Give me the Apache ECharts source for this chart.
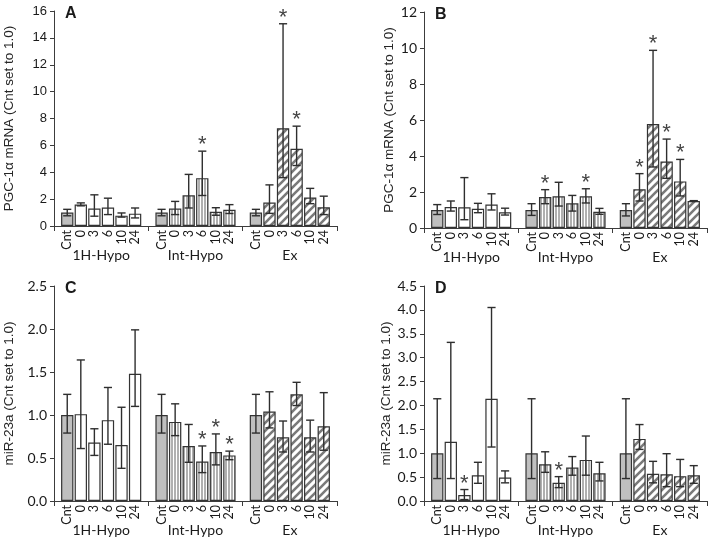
<!DOCTYPE html>
<html><head><meta charset="utf-8">
<script src="https://cdn.jsdelivr.net/npm/echarts@6/dist/echarts.min.js"></script>
<style>html,body{margin:0;padding:0;background:#fff}#chart{width:709px;height:539px}</style>
</head><body><div id="chart"></div>
<script>
const groups = ['1H-Hypo', 'Int-Hypo', 'Ex'];
const timepoints = ['Cnt', '0', '3', '6', '10', '24'];

// Order in every array: 1H-Hypo (Cnt,0,3,6,10,24), Int-Hypo (...), Ex (...)
// Panel A: PGC-1α mRNA
const meanA = [1.0, 1.6, 1.3, 1.38, 0.77, 0.92,  1.0, 1.3, 2.28, 3.56, 1.06, 1.2,  1.0, 1.74, 7.28, 5.74, 2.12, 1.39];
const hiA   = [1.24, 1.72, 2.32, 2.07, 0.97, 1.34, 1.24, 1.83, 3.84, 5.57, 1.36, 1.59, 1.24, 3.06, 15.05, 7.43, 2.8, 2.22];
const loA   = [0.76, 1.5, 0.73, 0.85, 0.66, 0.6,  0.76, 0.85, 1.34, 2.27, 0.8, 0.93, 0.76, 0.94, 3.6, 4.5, 1.66, 0.85];
const starA = [0,0,0,0,0,0, 0,0,0,1,0,0, 0,0,1,1,0,0];

// Panel B: PGC-1α mRNA
const meanB = [1.0, 1.17, 1.15, 1.07, 1.3, 0.87,  1.0, 1.72, 1.76, 1.37, 1.76, 0.9,  1.0, 2.15, 5.78, 3.69, 2.59, 1.5];
const hiB   = [1.3, 1.5, 2.8, 1.37, 1.9, 1.1,  1.35, 2.13, 2.54, 1.81, 2.18, 1.09,  1.35, 3.02, 9.87, 4.94, 3.81, 1.52];
const loB   = [0.75, 0.94, 0.46, 0.85, 1.0, 0.72,  0.7, 1.35, 1.22, 0.94, 1.39, 0.76,  0.67, 1.5, 3.39, 2.76, 1.78, 1.48];
const starB = [0,0,0,0,0,0, 0,1,0,0,1,0, 0,1,1,1,1,0];

// Panel C: miR-23a
const meanC = [1.0, 1.01, 0.68, 0.94, 0.65, 1.48,  1.0, 0.92, 0.64, 0.46, 0.57, 0.53,  1.0, 1.04, 0.74, 1.24, 0.74, 0.87];
const hiC   = [1.24, 1.64, 0.84, 1.32, 1.09, 1.99,  1.24, 1.13, 0.89, 0.64, 0.78, 0.58,  1.24, 1.27, 0.93, 1.38, 0.94, 1.26];
const loC   = [0.79, 0.61, 0.53, 0.66, 0.38, 1.1,  0.79, 0.76, 0.45, 0.33, 0.42, 0.48,  0.79, 0.85, 0.57, 1.11, 0.57, 0.59];
const starC = [0,0,0,0,0,0, 0,0,0,1,1,1, 0,0,0,0,0,0];

// Panel D: miR-23a
const meanD = [1.0, 1.24, 0.125, 0.54, 2.14, 0.49,  1.0, 0.77, 0.38, 0.7, 0.86, 0.58,  1.0, 1.3, 0.57, 0.56, 0.52, 0.54];
const hiD   = [2.14, 3.32, 0.24, 0.81, 4.05, 0.63,  2.14, 1.03, 0.51, 0.93, 1.36, 0.81,  2.14, 1.6, 0.83, 0.99, 0.87, 0.74];
const loD   = [0.47, 0.47, 0.03, 0.37, 1.13, 0.38,  0.47, 0.6, 0.28, 0.54, 0.54, 0.42,  0.47, 1.08, 0.38, 0.3, 0.3, 0.37];
const starD = [0,0,1,0,0,0, 0,0,1,0,0,0, 0,0,0,0,0,0];

const yNamePGC = 'PGC-1α mRNA (Cnt set to 1.0)';
const yNameMiR = 'miR-23a (Cnt set to 1.0)';

// ---------- layout / styling ----------
const panels = [
  {letter:'A', mean:meanA, hi:hiA, lo:loA, star:starA, max:16, interval:2, dec:0, name:yNamePGC,
   grid:{left:54, top:11, width:283, height:215}, nameGap:38, tickFont:{fontFamily:'Liberation Sans', fontSize:13}},
  {letter:'B', mean:meanB, hi:hiB, lo:loB, star:starB, max:12, interval:2, dec:0, name:yNamePGC,
   grid:{left:424, top:12, width:283, height:216}, nameGap:28, tickFont:{fontFamily:'Lato', fontSize:14}},
  {letter:'C', mean:meanC, hi:hiC, lo:loC, star:starC, max:2.5, interval:0.5, dec:1, name:yNameMiR,
   grid:{left:54, top:286, width:283, height:215}, nameGap:38, tickFont:{fontFamily:'Lato', fontSize:14}},
  {letter:'D', mean:meanD, hi:hiD, lo:loD, star:starD, max:4.5, interval:0.5, dec:1, name:yNameMiR,
   grid:{left:424, top:286, width:283, height:215}, nameGap:28, tickFont:{fontFamily:'Lato', fontSize:14}}
];

function makeHatch() {
  const c = document.createElement('canvas'); c.width = 8; c.height = 8;
  const ctx = c.getContext('2d');
  ctx.fillStyle = '#ffffff'; ctx.fillRect(0, 0, 8, 8);
  ctx.strokeStyle = '#7a7a7a'; ctx.lineWidth = 2.6;
  ctx.beginPath();
  ctx.moveTo(-1, 9); ctx.lineTo(9, -1);
  ctx.moveTo(-3, 3); ctx.lineTo(3, -3);
  ctx.moveTo(5, 11); ctx.lineTo(11, 5);
  ctx.stroke();
  return c;
}
function makeVStripe() {
  const c = document.createElement('canvas'); c.width = 3; c.height = 3;
  const ctx = c.getContext('2d');
  ctx.fillStyle = '#ffffff'; ctx.fillRect(0, 0, 3, 3);
  ctx.fillStyle = '#b0b0b0'; ctx.fillRect(0, 0, 2, 3);
  return c;
}
const hatchImg = makeHatch();
const stripeImg = makeVStripe();

function fillFor(g, t) {
  if (t === 0) return '#bfbfbf';
  if (g === 0) return '#ffffff';
  if (g === 1) return {image: stripeImg, repeat: 'repeat'};
  return {image: hatchImg, repeat: 'repeat'};
}

const BAR_CAT_GAP = 0.15, BAR_GAP = 0.10, NB = timepoints.length;

function errRender(params, api) {
  const g = api.value(0), t = api.value(1), lo = api.value(2), hi = api.value(3), st = api.value(4);
  const band = api.size([1, 0])[0];
  const total = band * (1 - BAR_CAT_GAP);
  const bw = total / (NB + (NB - 1) * BAR_GAP);
  const cx = api.coord([g, 0])[0] - total / 2 + t * bw * (1 + BAR_GAP) + bw / 2;
  const yHi = api.coord([g, hi])[1];
  const yLo = api.coord([g, lo])[1];
  const hw = bw * 0.33;
  const style = {stroke: '#2e2e2e', lineWidth: 1.4};
  const children = [
    {type: 'line', shape: {x1: cx, y1: yHi, x2: cx, y2: yLo}, style: style},
    {type: 'line', shape: {x1: cx - hw, y1: yHi, x2: cx + hw, y2: yHi}, style: style},
    {type: 'line', shape: {x1: cx - hw, y1: yLo, x2: cx + hw, y2: yLo}, style: style}
  ];
  if (st) {
    children.push({type: 'text', x: cx, y: yHi - 17,
      style: {text: '*', fill: '#444444', font: '22px "Liberation Sans"', align: 'center', verticalAlign: 'top'}});
  }
  return {type: 'group', children: children};
}

const option = {
  animation: false,
  backgroundColor: '#ffffff',
  title: [], grid: [], xAxis: [], yAxis: [], series: []
};

panels.forEach((p, pi) => {
  option.grid.push(Object.assign({outerBoundsMode: 'none', containLabel: false}, p.grid));
  option.title.push({
    text: p.letter, left: p.grid.left + 11, top: p.grid.top - 5, padding: 0,
    textStyle: {fontFamily: 'Liberation Sans', fontWeight: 'bold', fontSize: 16, color: '#1a1a1a'}
  });
  option.xAxis.push({
    type: 'category', gridIndex: pi, data: groups,
    axisLine: {show: true, lineStyle: {color: '#3c3c3c', width: 1}},
    axisTick: {show: true, length: 5, alignWithLabel: false, interval: 0, lineStyle: {color: '#3c3c3c'}},
    axisLabel: {margin: 22, fontFamily: 'Lato', fontSize: 14, color: '#1a1a1a', interval: 0},
    splitLine: {show: false}
  });
  option.yAxis.push({
    type: 'value', gridIndex: pi, min: 0, max: p.max, interval: p.interval,
    name: p.name, nameLocation: 'middle', nameGap: p.nameGap,
    nameTextStyle: {fontFamily: 'Liberation Sans', fontSize: 13.5, color: '#262626'},
    axisLine: {show: true, lineStyle: {color: '#3c3c3c', width: 1}},
    axisTick: {show: true, length: 4, lineStyle: {color: '#3c3c3c'}},
    axisLabel: Object.assign({margin: 7, color: '#1a1a1a',
      formatter: v => Number(v).toFixed(p.dec)}, p.tickFont),
    splitLine: {show: false}
  });
  timepoints.forEach((tp, t) => {
    option.series.push({
      type: 'bar', name: tp, xAxisIndex: pi, yAxisIndex: pi,
      barGap: (BAR_GAP * 100) + '%', barCategoryGap: (BAR_CAT_GAP * 100) + '%',
      silent: true,
      itemStyle: {borderColor: '#333333', borderWidth: 1.2},
      label: {show: true, position: 'bottom', distance: 4, rotate: 90, align: 'right', verticalAlign: 'middle',
        formatter: tp, fontFamily: 'Lato', fontSize: 12.5, color: '#1a1a1a'},
      data: groups.map((g, gi) => ({value: p.mean[gi * NB + t], itemStyle: {color: fillFor(gi, t)}}))
    });
  });
  const errData = [];
  groups.forEach((g, gi) => timepoints.forEach((tp, t) => {
    const k = gi * NB + t;
    errData.push([gi, t, p.lo[k], p.hi[k], p.star[k]]);
  }));
  option.series.push({
    type: 'custom', xAxisIndex: pi, yAxisIndex: pi, silent: true, z: 5, clip: false,
    encode: {x: 0, y: 3},
    renderItem: errRender, data: errData
  });
});

const chart = echarts.init(document.getElementById('chart'), null, {renderer: 'canvas'});
chart.setOption(option);
</script>
</body></html>
